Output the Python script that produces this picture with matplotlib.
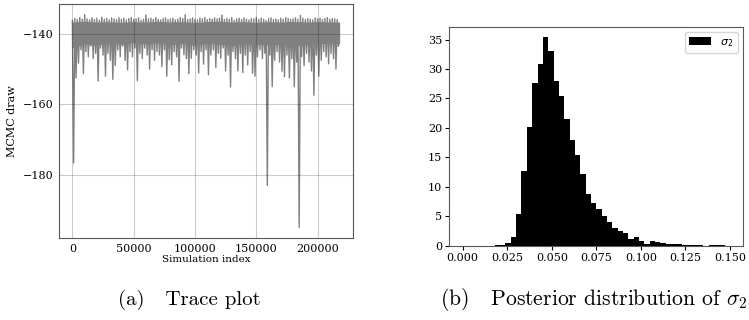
import numpy as np
import matplotlib
matplotlib.use("Agg")
import matplotlib.pyplot as plt

# Trace plot: per block of 2000 draws, highest and lowest value
block_size = 2000
trace_high = [
    -136.2, -135.6, -135.9, -135.3, -135.8, -134.5, -135.7, -136.0, -135.4, -135.9,
    -135.5, -136.1, -135.2, -135.8, -135.6, -136.0, -135.4, -135.7, -135.9, -135.3,
    -135.8, -135.5, -136.0, -135.6, -135.3, -135.9, -135.7, -135.4, -136.1, -135.8,
    -134.6, -135.7, -135.5, -135.9, -135.3, -135.8, -136.0, -135.6, -135.4, -135.9,
    -135.7, -135.5, -136.0, -135.8, -135.3, -135.6, -134.5, -135.9, -135.7, -135.4,
    -135.8, -136.0, -135.5, -135.7, -135.3, -135.9, -135.6, -135.8, -135.4, -135.7,
    -135.5, -134.6, -135.9, -135.6, -135.8, -135.3, -136.1, -135.7, -135.5, -135.9,
    -135.4, -135.8, -136.0, -135.6, -135.7, -135.3, -135.9, -135.5, -135.8, -136.2,
    -135.6, -135.4, -135.9, -135.7, -136.0, -135.5, -135.8, -135.3, -135.6, -135.9,
    -135.7, -135.4, -135.8, -134.7, -135.5, -135.9, -135.6, -135.8, -136.0, -135.4,
    -135.7, -135.5, -135.9, -135.6, -135.3, -135.8, -135.6, -135.7, -135.9,
]
trace_low = [
    -176.7, -152.5, -148.3, -144.5, -151.3, -145.0, -146.5, -143.5, -147.0, -145.5,
    -153.4, -144.0, -146.0, -152.0, -145.5, -147.5, -152.9, -149.0, -144.5, -146.5,
    -143.5, -147.5, -150.2, -145.0, -146.5, -144.0, -153.3, -145.5, -147.0, -144.0,
    -146.0, -150.0, -144.5, -147.5, -145.0, -146.0, -149.3, -144.5, -152.0, -147.3,
    -148.8, -145.0, -146.5, -153.5, -144.0, -145.9, -147.0, -151.3, -146.9, -144.5,
    -146.0, -151.1, -145.0, -148.6, -144.5, -151.6, -146.0, -144.5, -149.5, -145.5,
    -146.9, -144.0, -150.5, -146.0, -155.1, -145.0, -147.0, -150.5, -145.5, -151.0,
    -146.0, -148.8, -145.0, -151.2, -152.0, -146.5, -144.5, -147.0, -145.5, -183.1,
    -146.0, -155.0, -147.5, -145.0, -148.0, -150.6, -152.2, -146.0, -152.5, -147.0,
    -155.0, -148.0, -195.0, -146.5, -149.0, -145.5, -148.0, -150.5, -157.4, -146.0,
    -152.0, -147.5, -145.0, -146.5, -148.5, -145.5, -147.0, -150.0, -143.5,
]

# solid core of the trace band (top / bottom edge), sampled along the run
band_index = [0, 10000, 20000, 30000, 40000, 50000, 60000, 70000, 80000, 90000,
              100000, 110000, 120000, 130000, 140000, 150000, 160000, 170000,
              180000, 190000, 200000, 210000, 218000]
band_top = [-136.6, -136.4, -136.6, -136.5, -136.7, -136.5, -136.6, -136.4,
            -136.6, -136.5, -136.7, -136.5, -136.4, -136.6, -136.5, -136.7,
            -136.5, -136.6, -136.4, -136.6, -136.5, -136.6, -136.6]
band_bottom = [-144.0, -142.8, -143.2, -142.6, -143.0, -142.4, -142.9, -142.5,
               -143.1, -142.7, -143.3, -142.6, -142.9, -143.4, -142.8, -143.0,
               -143.2, -142.9, -143.5, -143.1, -142.8, -142.6, -142.9]

# Posterior of sigma_2: density histogram, 50 bins on [0, 0.15]
bin_edges = np.linspace(0.0, 0.15, 51)
sigma2_density = [
    0.0, 0.0, 0.0, 0.0, 0.0, 0.0, 0.1, 0.05, 0.5, 1.45,
    5.4, 12.6, 20.1, 27.6, 30.9, 35.4, 33.1, 28.0, 25.5, 21.5,
    17.9, 15.4, 12.2, 8.8, 7.2, 6.3, 5.0, 4.1, 3.0, 2.55,
    2.1, 1.2, 1.5, 0.85, 0.35, 0.85, 0.55, 0.4, 0.25, 0.25,
    0.3, 0.15, 0.1, 0.05, 0.05, 0.0, 0.1, 0.05, 0.1, 0.0,
]

plt.rcParams["font.family"] = "DejaVu Serif"
plt.rcParams["font.size"] = 7.5
plt.rcParams["xtick.labelsize"] = 8
plt.rcParams["ytick.labelsize"] = 8

fig = plt.figure(figsize=(7.49, 3.2), dpi=100)

# (a) trace plot
ax1 = fig.add_axes([0.0788, 0.25625, 0.3925, 0.73125])
draws = np.column_stack((trace_high, trace_low)).ravel()
sim_index = np.arange(len(draws)) * (block_size // 2)
trace_gray = "#808080"
ax1.fill_between(band_index, band_bottom, band_top, color=trace_gray, linewidth=0)
ax1.plot(sim_index, draws, color=trace_gray, linewidth=1.0)
ax1.set_axisbelow(False)
ax1.grid(True, color="black", alpha=0.2, linewidth=0.8)
ax1.set_yticks([-140, -160, -180])
ax1.set_xlabel("Simulation index", labelpad=1)
ax1.set_ylabel("MCMC draw", fontsize=8)
ax1.tick_params(length=0, pad=4)
for s in ax1.spines.values():
    s.set_color("0.35")

# (b) posterior histogram
ax2 = fig.add_axes([0.5999, 0.2322, 0.3925, 0.684])
centers = (bin_edges[:-1] + bin_edges[1:]) / 2
ax2.hist(centers, bins=bin_edges, weights=sigma2_density, color="black",
         label=r"$\sigma_2$")
ax2.set_xticks([0.0, 0.025, 0.05, 0.075, 0.1, 0.125, 0.15])
ax2.xaxis.set_major_formatter(plt.FuncFormatter(lambda v, _: f"{v:.3f}"))
ax2.legend(loc="upper right", fontsize=8)
ax2.tick_params(length=3, pad=2)
for s in ax2.spines.values():
    s.set_color("0.35")

# sub-captions
fig.text(118 / 749, 1 - 305 / 320, "(a)   Trace plot", family="cmr10",
         fontsize=15, ha="left", va="baseline")
fig.text(747 / 749, 1 - 305 / 320, r"(b)   Posterior distribution of $\sigma_2$",
         family="cmr10", math_fontfamily="cm", fontsize=15.6, ha="right",
         va="baseline")

fig.savefig("out.png", dpi=100)
